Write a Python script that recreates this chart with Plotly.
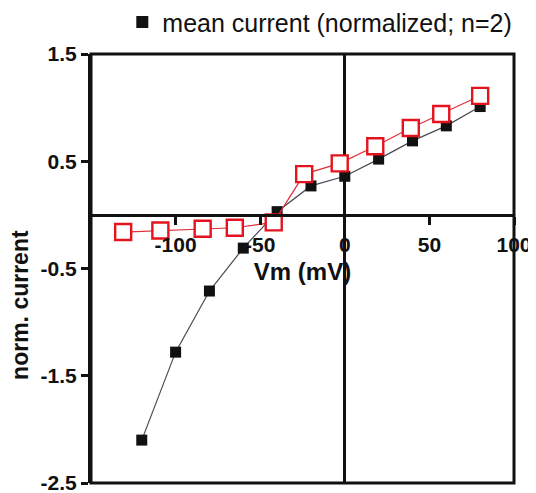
import plotly.graph_objects as go

# Data
vm_mean = [-120, -100, -80, -60, -40, -20, 0, 20, 40, 60, 80]
cur_mean = [-2.10, -1.28, -0.71, -0.31, 0.03, 0.27, 0.36, 0.52, 0.69, 0.83, 1.01]

vm_red = [-131, -109, -84, -65, -42, -24, -3, 18, 39, 57, 80]
cur_red = [-0.16, -0.145, -0.13, -0.12, -0.07, 0.38, 0.48, 0.64, 0.81, 0.94, 1.11]

x_ticks = [-100, -50, 0, 50, 100]
y_ticks = [-2.5, -1.5, -0.5, 0.5, 1.5]

FONT = "Liberation Sans"

fig = go.Figure()
fig.add_trace(go.Scatter(
    x=vm_mean, y=cur_mean, mode="lines+markers",
    line=dict(color="#4a4a55", width=1.2),
    marker=dict(symbol="square", size=11, color="#111111"),
    showlegend=False,
))
fig.add_trace(go.Scatter(
    x=vm_red, y=cur_red, mode="lines+markers",
    line=dict(color="#e0303a", width=1.2),
    marker=dict(symbol="square", size=16, color="white",
                line=dict(color="#e3141e", width=2.4)),
    showlegend=False,
))
# legend entry (marker only)
fig.add_trace(go.Scatter(
    x=[None], y=[None], mode="markers",
    marker=dict(symbol="square", size=12, color="#111111"),
    name="mean current (normalized; n=2)",
))

fig.update_layout(
    width=528, height=485,
    margin=dict(l=83, r=22, t=46, b=10, autoexpand=False),
    paper_bgcolor="white", plot_bgcolor="white",
    font=dict(family=FONT, color="#111111"),
    legend=dict(x=0.074, y=1.074, xanchor="left", yanchor="middle",
                font=dict(family=FONT, size=25, color="#111111"),
                bgcolor="rgba(0,0,0,0)"),
    xaxis=dict(
        range=[-150, 100], anchor="free", position=0.625,
        showline=True, linecolor="#111111", linewidth=3,
        ticks="outside", ticklen=8, tickwidth=3, tickcolor="#111111",
        tickvals=x_ticks, ticktext=[str(v) for v in x_ticks],
        tickfont=dict(family=FONT, size=21, weight="bold"),
        ticklabelstandoff=2, ticklabeloverflow="allow",
        showgrid=False,
        zeroline=True, zerolinecolor="#111111", zerolinewidth=3,
        title=dict(text="Vm (mV)", font=dict(family=FONT, size=24, weight="bold"),
                   standoff=8),
    ),
    yaxis=dict(
        range=[-2.5, 1.5],
        showline=True, linecolor="#111111", linewidth=3,
        ticks="outside", ticklen=7, tickwidth=3, tickcolor="#111111",
        tickvals=y_ticks, ticktext=[str(v) for v in y_ticks],
        tickfont=dict(family=FONT, size=21, weight="bold"),
        ticklabeloverflow="allow",
        showgrid=False, zeroline=False,
    ),
    shapes=[dict(type="rect", xref="paper", yref="paper", x0=0, x1=1, y0=0, y1=1,
                 line=dict(color="#111111", width=3), fillcolor="rgba(0,0,0,0)",
                 layer="below")],
    annotations=[dict(text="norm. current", xref="paper", yref="paper",
                      x=-0.168, y=0.415, xanchor="center", yanchor="middle",
                      textangle=-90, showarrow=False,
                      font=dict(family=FONT, size=23, weight="bold"))],
)

fig.write_html("out.html")
